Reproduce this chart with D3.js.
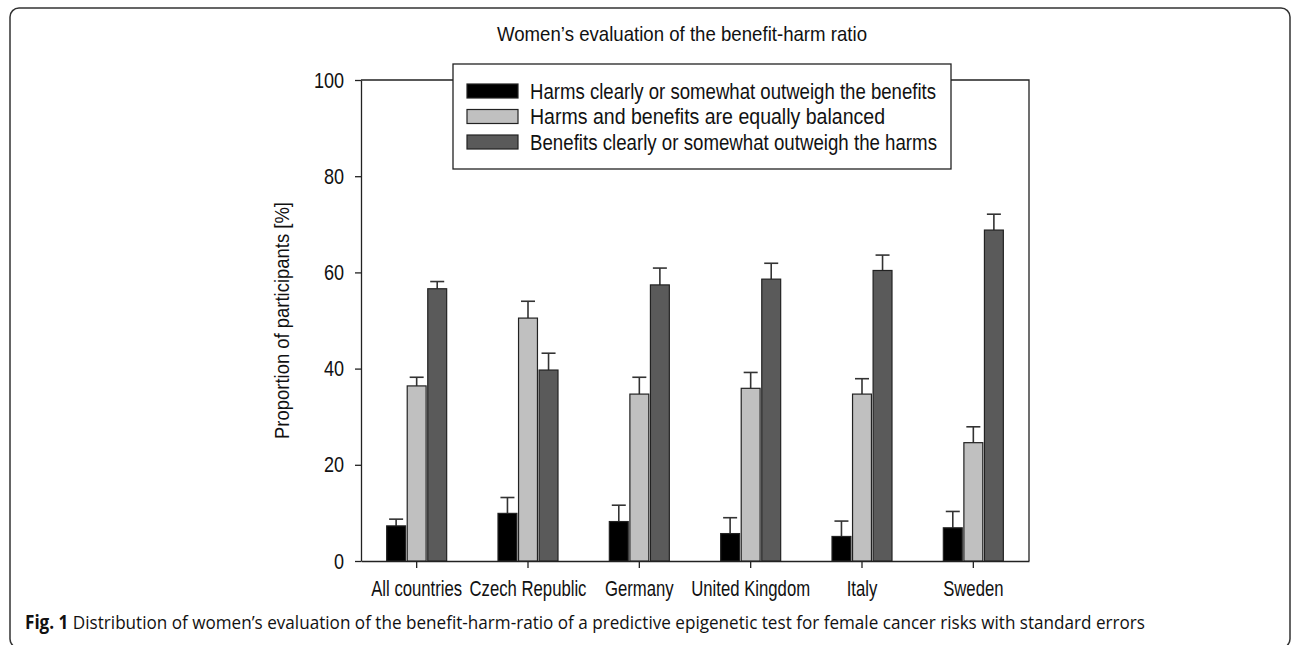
<!DOCTYPE html>
<html>
<head>
<meta charset="utf-8">
<script src="https://cdn.jsdelivr.net/npm/d3@7"></script>
<style>
  body { margin: 0; background: #fff; }
  svg text { fill: #111; }
</style>
</head>
<body>
<div id="chart"></div>
<script>
// data (percent, upper standard error)
const categories = ["All countries", "Czech Republic", "Germany", "United Kingdom", "Italy", "Sweden"];
const seriesNames = [
  "Harms clearly or somewhat outweigh the benefits",
  "Harms and benefits are equally balanced",
  "Benefits clearly or somewhat outweigh the harms"
];
const harms = [7.3, 9.9, 8.2, 5.7, 5.1, 6.9];
const harmsSE = [1.4, 3.3, 3.4, 3.3, 3.2, 3.4];
const balanced = [36.4, 50.5, 34.7, 35.9, 34.7, 24.6];
const balancedSE = [1.8, 3.5, 3.5, 3.3, 3.2, 3.3];
const benefits = [56.6, 39.7, 57.4, 58.6, 60.4, 68.8];
const benefitsSE = [1.5, 3.5, 3.5, 3.3, 3.2, 3.3];
const yTicks = [0, 20, 40, 60, 80, 100];

const colors = ["#000000", "#c0c0c0", "#5a5a5a"];
const narrow = "'Liberation Sans Narrow', 'Arial Narrow', 'Liberation Sans', Arial, sans-serif";

// squeeze text horizontally, the figure uses a condensed face
function condense(sel, k) {
  sel.each(function() {
    const len = this.getComputedTextLength();
    d3.select(this)
      .attr("textLength", len * k)
      .attr("lengthAdjust", "spacingAndGlyphs");
  });
}

const W = 1292, H = 645;
const margin = {top: 80, right: 263, bottom: 84, left: 361},
    width = W - margin.left - margin.right,
    height = H - margin.top - margin.bottom;

const svg = d3.select("#chart")
  .append("svg")
    .attr("width", W)
    .attr("height", H);

// outer rounded frame of the figure
svg.append("rect")
  .attr("x", 10).attr("y", 8)
  .attr("width", 1280).attr("height", 640)
  .attr("rx", 9)
  .attr("fill", "none")
  .attr("stroke", "#333")
  .attr("stroke-width", 1.5);

// title
svg.append("text")
  .attr("x", 682).attr("y", 41)
  .attr("text-anchor", "middle")
  .style("font-family", narrow)
  .style("font-size", "21px")
  .attr("textLength", 370)
  .attr("lengthAdjust", "spacingAndGlyphs")
  .text("Women\u2019s evaluation of the benefit-harm ratio");

const g = svg.append("g")
  .attr("transform", `translate(${margin.left},${margin.top})`);

// scales
const x = d3.scaleBand()
  .domain(categories)
  .range([0, width]);

const x1 = d3.scaleBand()
  .domain([0, 1, 2])
  .range([0, 60])
  .paddingInner(0.08);

const y = d3.scaleLinear()
  .domain([0, 100])
  .range([height, 0]);

// frame (top and right)
g.append("path")
  .attr("d", `M0,0H${width}V${height}`)
  .attr("fill", "none")
  .attr("stroke", "#222")
  .attr("stroke-width", 1.3);

// y axis
const yAxis = g.append("g")
  .call(d3.axisLeft(y).tickValues(yTicks).tickSize(6).tickPadding(11).tickSizeOuter(0));
yAxis.select(".domain").attr("stroke", "#222").attr("stroke-width", 1.3);
yAxis.selectAll(".tick line").attr("stroke", "#222").attr("stroke-width", 1.3);
yAxis.selectAll(".tick text")
  .style("font-family", narrow)
  .style("font-size", "22px")
  .attr("fill", "#111")
  .call(condense, 0.82);

// x axis
const xAxis = g.append("g")
  .attr("transform", `translate(0,${height})`)
  .call(d3.axisBottom(x).tickSize(7).tickPadding(12).tickSizeOuter(0));
xAxis.select(".domain").attr("stroke", "#222").attr("stroke-width", 1.3);
xAxis.selectAll(".tick line").attr("stroke", "#222").attr("stroke-width", 1.3);
xAxis.selectAll(".tick text")
  .style("font-family", narrow)
  .style("font-size", "22px")
  .attr("fill", "#111")
  .attr("transform", "scale(0.76,1)");

// y axis title
g.append("text")
  .attr("transform", `translate(-72,${height / 2}) rotate(-90)`)
  .attr("text-anchor", "middle")
  .style("font-family", narrow)
  .style("font-size", "21px")
  .attr("textLength", 237)
  .attr("lengthAdjust", "spacingAndGlyphs")
  .text("Proportion of participants [%]");

// bars and upper error bars
const values = [harms, balanced, benefits];
const errors = [harmsSE, balancedSE, benefitsSE];
const rows = [];
categories.forEach((c, i) => {
  values.forEach((v, s) => rows.push({cat: c, s: s, v: v[i], e: errors[s][i]}));
});

const bx = d => x(d.cat) + x.bandwidth() / 2 - 30 + x1(d.s);

g.append("g")
  .selectAll("line.err")
  .data(rows)
  .join("line")
    .attr("class", "err")
    .attr("x1", d => bx(d) + x1.bandwidth() / 2)
    .attr("x2", d => bx(d) + x1.bandwidth() / 2)
    .attr("y1", d => y(d.v))
    .attr("y2", d => y(d.v + d.e))
    .attr("stroke", "#333")
    .attr("stroke-width", 1.6);

g.append("g")
  .selectAll("line.cap")
  .data(rows)
  .join("line")
    .attr("class", "cap")
    .attr("x1", d => bx(d) + x1.bandwidth() / 2 - 7)
    .attr("x2", d => bx(d) + x1.bandwidth() / 2 + 7)
    .attr("y1", d => y(d.v + d.e))
    .attr("y2", d => y(d.v + d.e))
    .attr("stroke", "#333")
    .attr("stroke-width", 1.6);

g.append("g")
  .selectAll("rect")
  .data(rows)
  .join("rect")
    .attr("x", d => bx(d))
    .attr("y", d => y(d.v))
    .attr("width", x1.bandwidth())
    .attr("height", d => y(0) - y(d.v))
    .attr("fill", d => colors[d.s])
    .attr("stroke", "#222")
    .attr("stroke-width", 1.2);

// legend
const legend = svg.append("g").attr("transform", "translate(453,64)");
legend.append("rect")
  .attr("width", 498).attr("height", 105)
  .attr("fill", "#fff")
  .attr("stroke", "#222")
  .attr("stroke-width", 1.3);
const legendLen = [406, 355, 407];
seriesNames.forEach((name, i) => {
  const yy = 27 + i * 25.5;
  legend.append("rect")
    .attr("x", 14).attr("y", yy - 7)
    .attr("width", 51).attr("height", 14)
    .attr("fill", colors[i])
    .attr("stroke", "#222")
    .attr("stroke-width", 1.2);
  legend.append("text")
    .attr("x", 77).attr("y", yy)
    .attr("dy", "0.35em")
    .style("font-family", narrow)
    .style("font-size", "22px")
    .attr("textLength", legendLen[i])
    .attr("lengthAdjust", "spacingAndGlyphs")
    .text(name);
});

// caption
const cap = svg.append("text")
  .attr("x", 25).attr("y", 629)
  .style("font-family", "'Open Sans', 'Noto Sans', sans-serif")
  .style("font-size", "19px")
  .attr("textLength", 1120)
  .attr("lengthAdjust", "spacingAndGlyphs");
cap.append("tspan").style("font-weight", "bold").text("Fig. 1");
cap.append("tspan").text(" Distribution of women\u2019s evaluation of the benefit-harm-ratio of a predictive epigenetic test for female cancer risks with standard errors");
</script>
</body>
</html>
